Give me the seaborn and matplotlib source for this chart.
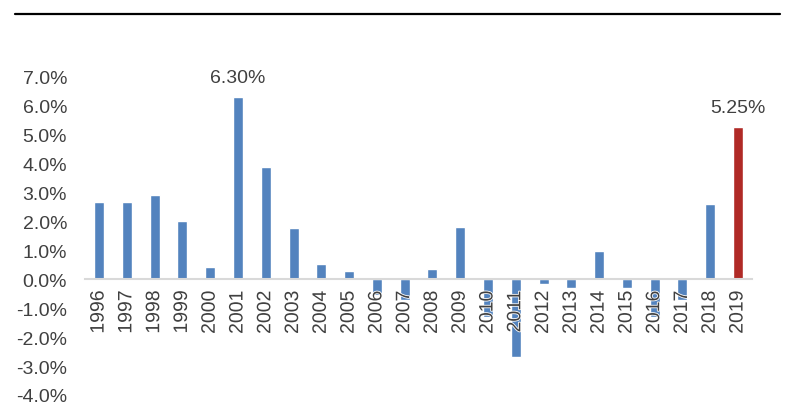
import matplotlib.pyplot as plt
import matplotlib.patheffects as pe
from matplotlib.lines import Line2D
from matplotlib.ticker import FuncFormatter
import seaborn as sns

sns.set_theme(style="white")
plt.rcParams["font.family"] = ["Liberation Sans", "DejaVu Sans"]

years = [str(y) for y in range(1996, 2020)]
values = [2.68, 2.68, 2.90, 2.02, 0.42, 6.30, 3.89, 1.78, 0.52, 0.27,
          -0.55, -0.70, 0.35, 1.80, -1.30, -2.68, -0.15, -0.30,
          0.97, -0.30, -1.30, -0.70, 2.62, 5.25]
highlight = {"2001": "6.30%", "2019": "5.25%"}

blue = "#5383BE"
red = "#B02A26"
colors = [red if y == "2019" else blue for y in years]
text_color = "#404040"
fs = 14

fig = plt.figure(figsize=(7.89, 4.14), dpi=100)
ax = fig.add_axes([0.108, 0.0435, 0.845, 0.7685])

sns.barplot(x=years, y=values, hue=years, palette=colors, legend=False,
            width=0.36, saturation=1, ax=ax)

ax.set_ylim(-4, 7)
ax.set_yticks(range(-4, 8))
ax.yaxis.set_major_formatter(FuncFormatter(lambda v, p: f"{v:.1f}%"))
ax.tick_params(axis="y", length=0, labelsize=fs, labelcolor=text_color, pad=13)

# category axis sits on the zero line, labels drawn on top of the bars
ax.set_axisbelow(False)
for s in ["left", "right", "top"]:
    ax.spines[s].set_visible(False)
ax.spines["bottom"].set_position(("data", 0))
ax.spines["bottom"].set_color("#D9D9D9")
ax.spines["bottom"].set_linewidth(1.5)
ax.tick_params(axis="x", length=0, labelsize=fs, labelcolor=text_color,
               rotation=90, pad=8)
for lbl in ax.get_xticklabels():
    lbl.set_path_effects([pe.withStroke(linewidth=1.2, foreground="white")])
ax.set_xlim(-0.5, len(years) - 0.5)

# value labels for the highlighted years
for i, y in enumerate(years):
    if y in highlight:
        ax.annotate(highlight[y], (i, values[i]), xytext=(0, 8),
                    textcoords="offset points", ha="center", va="bottom",
                    fontsize=fs, color=text_color)

# rule across the top
fig.add_artist(Line2D([0.019, 0.989], [0.963, 0.963], color="black",
                      linewidth=1.6, transform=fig.transFigure))

plt.savefig("out.png", dpi=100)
